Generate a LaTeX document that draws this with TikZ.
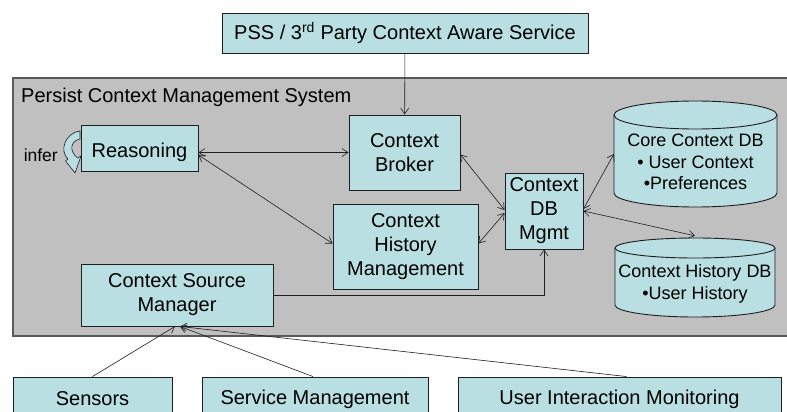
\documentclass[tikz,border=0pt]{standalone}
\usepackage{fontspec}
\setmainfont{Liberation Sans}
\usetikzlibrary{arrows.meta,calc}

\definecolor{boxfill}{RGB}{185,223,227}
\definecolor{sysfill}{RGB}{192,192,192}
\definecolor{sysline}{RGB}{90,90,90}
\definecolor{edge}{RGB}{30,30,30}

\tikzset{
  block/.style={draw=edge, line width=0.9pt, fill=boxfill, inner sep=0pt,
    align=center, font=\fontsize{20}{24}\selectfont},
  dbtext/.style={inner sep=0pt, align=center, font=\fontsize{18}{21.5}\selectfont},
  dbline/.style={draw=edge, line width=0.9pt},
  link/.style={draw=edge, line width=0.6pt},
  >={Straight Barb[length=6pt,width=8pt]}
}

\begin{document}
\begin{tikzpicture}[x=1pt,y=-1pt]
\clip (0,0) rectangle (787,412);
\fill[white] (0,0) rectangle (787,412);

% system frame (runs off the right edge)
\draw[sysline, line width=1.1pt, fill=sysfill] (13,78) rectangle (820,336);
\node[anchor=west, inner sep=0pt, font=\fontsize{20}{24}\selectfont] (title) at (21,97)
  {Persist Context Management System};

% external service
\node[block, minimum width=366pt, minimum height=40pt] (pss) at (405,33)
  {PSS / 3\textsuperscript{rd} Party Context Aware Service};

% infer loop arrow next to the reasoning block
\node[anchor=east, inner sep=0pt, font=\fontsize{17.5}{20}\selectfont] (infer) at (58,155) {infer};
\draw[edge, line width=0.6pt, fill=boxfill, line join=round]
  (80,131) .. controls (65,133) and (59,151) .. (68,159)
  -- (65.5,161) -- (75,173) -- (81,156) -- (77.5,158)
  .. controls (69,151) and (70,141) .. (80,139) -- cycle;

% components inside the system
\node[block, minimum width=117pt, minimum height=46pt] (reason) at (139.5,148)
  {\raisebox{-4pt}[\height][\depth]{Reasoning}};
\node[block, minimum width=111pt, minimum height=75pt] (broker) at (404.5,152.5) {Context\\Broker};
\node[block, minimum width=145pt, minimum height=85pt] (chm) at (405.5,246.5) {Context\\History\\Management};
\node[block, minimum width=78pt, minimum height=76pt] (dbm) at (544,211) {Context\\DB\\Mgmt};
\node[block, minimum width=192pt, minimum height=62pt] (csm) at (177,295) {Context Source\\Manager};

% databases
\fill[boxfill] (614,115) -- (614,193)
  arc[start angle=180, end angle=360, x radius=81.5pt, y radius=14pt]
  -- (777,115)
  arc[start angle=0, end angle=180, x radius=81.5pt, y radius=14pt] -- cycle;
\draw[dbline] (614,115) -- (614,193)
  arc[start angle=180, end angle=360, x radius=81.5pt, y radius=14pt] -- (777,115);
\draw[dbline] (695.5,115) ellipse[x radius=81.5pt, y radius=14pt];
\node[dbtext, minimum width=163pt, minimum height=106pt] (coredb) at (695.5,154) {};
\node[dbtext] (coretxt) at (695.5,162) {Core Context DB\\• User Context\\•Preferences};

\fill[boxfill] (615,248) -- (615,305)
  arc[start angle=180, end angle=360, x radius=80pt, y radius=12pt]
  -- (775,248)
  arc[start angle=0, end angle=180, x radius=80pt, y radius=10pt] -- cycle;
\draw[dbline] (615,248) -- (615,305)
  arc[start angle=180, end angle=360, x radius=80pt, y radius=12pt] -- (775,248);
\draw[dbline] (695,248) ellipse[x radius=80pt, y radius=10pt];
\node[dbtext, minimum width=160pt, minimum height=79pt] (histdb) at (695,277.5) {};
\node[dbtext] (histtxt) at (695,284) {Context History DB\\•User History};

% sources below the system
\node[block, minimum width=159pt, minimum height=44pt] (sensors) at (92.5,399) {Sensors};
\node[block, minimum width=226pt, minimum height=44pt] (svc) at (315,399) {Service Management};
\node[block, minimum width=323pt, minimum height=44pt] (uim) at (619.5,399) {User Interaction Monitoring};

% connectors
\draw[link,->] (pss) -- (broker);
\draw[link,<->] (reason.east |- broker.west) -- (broker.west);
\draw[link,<->] ([yshift=-7pt]reason.east) -- ([yshift=3pt]chm.west);
\draw[link,<->] ([yshift=-2pt]broker.east) -- ([yshift=1pt]dbm.west);
\draw[link,<->] ([yshift=3pt]chm.east) -- ([yshift=-2pt]dbm.west);
\draw[link,<->] ([yshift=2pt]dbm.east) -- (coredb.west);
\draw[link,<->] (dbm.east) -- ([yshift=2pt]histdb.north);
\draw[link,->] (csm.east) -| (dbm.south);
\draw[link,->] (sensors.north) -- ([xshift=-2pt]csm.south);
\draw[link,->] ([xshift=-2pt]svc.north) -- ([xshift=3pt]csm.south);
\draw[link,->] ([xshift=7pt]uim.north) -- ([xshift=3pt]csm.south);
\end{tikzpicture}
\end{document}
